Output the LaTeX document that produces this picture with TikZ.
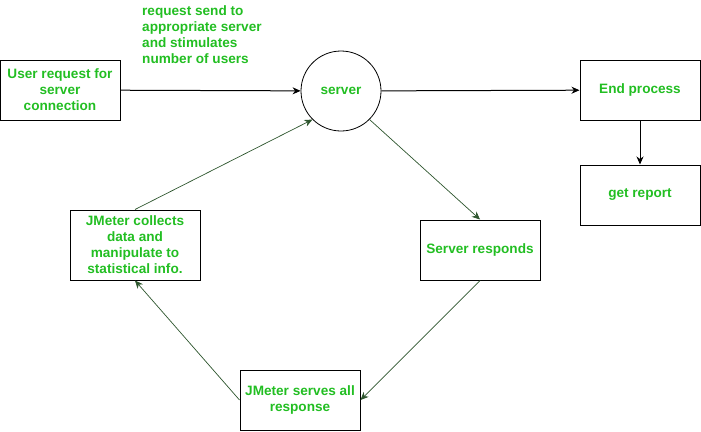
\documentclass[tikz,border=0pt]{standalone}
\usepackage{fontspec}
\setmainfont{Liberation Sans}
\usetikzlibrary{arrows.meta}
\definecolor{txtgreen}{RGB}{34,190,34}
\definecolor{linegreen}{RGB}{45,85,45}

\begin{document}
\begin{tikzpicture}[x=1pt,y=-1pt]
\tikzstyle{every node}=[font=\fontsize{13.6}{16}\selectfont\bfseries,text=txtgreen,align=center];
\tikzstyle{box}=[draw=black,line width=1pt,minimum width=120pt,minimum height=60pt,inner sep=2pt];
\tikzstyle{conn}=[draw=black,line width=1pt,-{Stealth[length=8pt,width=7pt,inset=2.5pt]}];
\tikzstyle{thinconn}=[draw=linegreen,line width=0.7pt,-{Stealth[length=8pt,width=7pt,inset=2.5pt]}];
\useasboundingbox (0,0) rectangle (701,431);
\node[box] (user) at (60,90) {User request for\\server\\connection};
\node[draw=black,line width=0.8pt,circle,minimum size=80pt,inner sep=0pt] (server) at (341,91) {server};
\node[box] (endp) at (640,90) {End process};
\node[box] (report) at (640,195) {get report};
\node[box] (responds) at (480,250) {Server responds};
\node[box,minimum width=130pt,minimum height=70pt] (collects) at (135,245) {JMeter collects\\data and\\manipulate to\\statistical info.};
\node[box] (serves) at (300,400) {JMeter serves all\\response};
\node[anchor=west,align=left,inner sep=0pt] (note) at (142,35) {request send to\\appropriate server\\and stimulates\\number of users};
\draw[conn] (user) -- (server);
\draw[conn] (server) -- (endp);
\draw[conn] (endp) -- (report);
\draw[thinconn] (server.-45) -- (responds.north);
\draw[thinconn] (responds.south) -- (serves.east);
\draw[thinconn] (serves.west) -- (collects.south);
\draw[thinconn] (collects.north) -- (server.-135);
\end{tikzpicture}
\end{document}
